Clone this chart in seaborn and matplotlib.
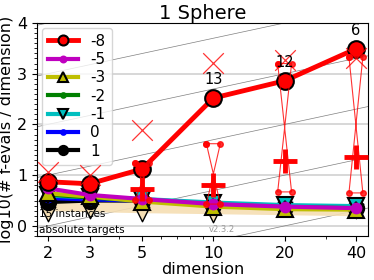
import seaborn as sns
import pandas as pd
import matplotlib
matplotlib.use('Agg')
import matplotlib.pyplot as plt

plot_name = '1 Sphere'

# dimensions and log10(ERT / dim) per target exponent
dims = [2, 3, 5, 10, 20, 40]
targets = ['-8', '-5', '-3', '-2', '-1', '0', '1']
ert = {
    '1':  [0.47, 0.50, 0.50, 0.42, 0.38, 0.36],
    '0':  [0.55, 0.52, 0.50, 0.43, 0.38, 0.36],
    '-1': [0.60, 0.56, 0.53, 0.46, 0.41, 0.39],
    '-2': [0.62, 0.56, 0.50, 0.42, 0.37, 0.35],
    '-3': [0.64, 0.58, 0.48, 0.38, 0.33, 0.32],
    '-5': [0.74, 0.61, 0.53, 0.43, 0.38, 0.35],
    '-8': [0.87, 0.83, 1.12, 2.52, 2.86, 3.49],
}
# reference (best 2009) band and markers
ref_band = [0.40, 0.38, 0.36, 0.34, 0.32, 0.30]
ref_marks = [0.24, 0.30, 0.24, 0.22, 0.33, 0.30]
# median of largest target reached (x) and of runs (+)
median_x = [1.06, 1.00, 1.89, 3.21, 3.27, 3.30]
dims_plus = [5, 10, 20, 40]
median_plus = [0.73, 0.80, 1.28, 1.36]
# percentile bars for target -8
bar_top = [1.24, 1.62, 3.20, 3.33]
bar_bottom = [0.51, 0.43, 0.67, 0.65]
# number of successful runs written above markers
succ_dims = [10, 20, 40]
succ_text = ['13', '12', '6']

styles = {
    '1':  dict(color='k', marker='o', markersize=11, lw=3),
    '0':  dict(color='b', marker='.', markersize=11, lw=3),
    '-1': dict(color='c', marker='v', markersize=11, lw=3),
    '-2': dict(color='g', marker='.', markersize=11, lw=3),
    '-3': dict(color='y', marker='^', markersize=11, lw=3),
    '-5': dict(color='m', marker='.', markersize=14, lw=3),
    '-8': dict(color='r', marker='o', markersize=12, lw=3.5),
}

fig, ax = plt.subplots(figsize=(3.74, 2.8), dpi=100)
fig.subplots_adjust(left=0.099, right=0.984, bottom=0.157, top=0.918)
ax.set_xscale('log')

#reference lines of quadratic scaling
for i in range(-2, 7):
    ax.plot([0.2, 20000], [i, i + 5], color='0.5', lw=0.5, zorder=1)

#best 2009 band
sns.lineplot(x=dims, y=ref_band, color='wheat', lw=8, alpha=0.9,
             solid_capstyle='projecting', zorder=2, ax=ax)
sns.scatterplot(x=dims, y=ref_marks, marker='v', s=110, color='wheat',
                edgecolor='k', linewidth=1, zorder=3, ax=ax)

z = 4
for t in targets[::-1]:
    st = styles[t]
    mec = 'k' if st['marker'] != '.' else st['color']
    sns.lineplot(x=dims, y=ert[t], label=t, markeredgecolor=mec,
                 markeredgewidth=1.5, zorder=z, ax=ax, **st)
    z += 1

#percentile bars
for d, top, bot in zip(dims_plus, bar_top, bar_bottom):
    xs = [d / 1.07, d * 1.07, d / 1.07, d * 1.07, d / 1.07]
    ys = [top, top, bot, bot, top]
    ax.plot(xs, ys, color='r', lw=0.8, marker='o', markersize=4,
            alpha=0.8, zorder=12)

sns.scatterplot(x=dims, y=median_x, marker='x', s=220, color='r',
                linewidth=0.9, alpha=0.8, zorder=13, ax=ax)
ax.plot(dims_plus, median_plus, ls='none', marker='+', markersize=17,
        markeredgewidth=3.5, color='r', zorder=13)

for d, s in zip(succ_dims, succ_text):
    v = ert['-8'][dims.index(d)]
    ax.text(d, v + 0.22, s, ha='center', va='bottom', fontsize=10.5,
            zorder=14)

ax.set_xlim(1.8, 45)
ax.set_ylim(-0.2, 4)
ax.set_xticks(dims)
ax.set_xticklabels([str(d) for d in dims])
ax.set_yticks([0, 1, 2, 3, 4])
ax.yaxis.set_minor_locator(matplotlib.ticker.MultipleLocator(0.1))
ax.tick_params(labelsize=11.5)
ax.grid(axis='y', which='major', color='0.82', lw=1.2, zorder=0)
ax.set_axisbelow(True)

ax.set_xlabel('dimension', fontsize=11.5, labelpad=1)
ax.set_ylabel('log10(# f-evals / dimension)', fontsize=11.5, labelpad=2)
ax.set_title(plot_name, fontsize=14, pad=3)

ax.text(0.005, 0.08, '15 instances', transform=ax.transAxes,
        fontsize=7.5, va='bottom')
ax.text(0.005, 0.005, 'absolute targets', transform=ax.transAxes,
        fontsize=7.5, va='bottom')
ax.text(0.52, 0.01, 'v2.3.2', transform=ax.transAxes, fontsize=6,
        color='0.6', va='bottom')

#clean up legend
handles, labels = ax.get_legend_handles_labels()
order = [labels.index(t) for t in targets]
ax.legend([handles[i] for i in order], targets, loc='upper left',
          fontsize=11, labelspacing=0.22, handlelength=2.0,
          borderaxespad=0.3, handletextpad=0.8, markerscale=0.6)

fig.savefig('out.png', dpi=100)
